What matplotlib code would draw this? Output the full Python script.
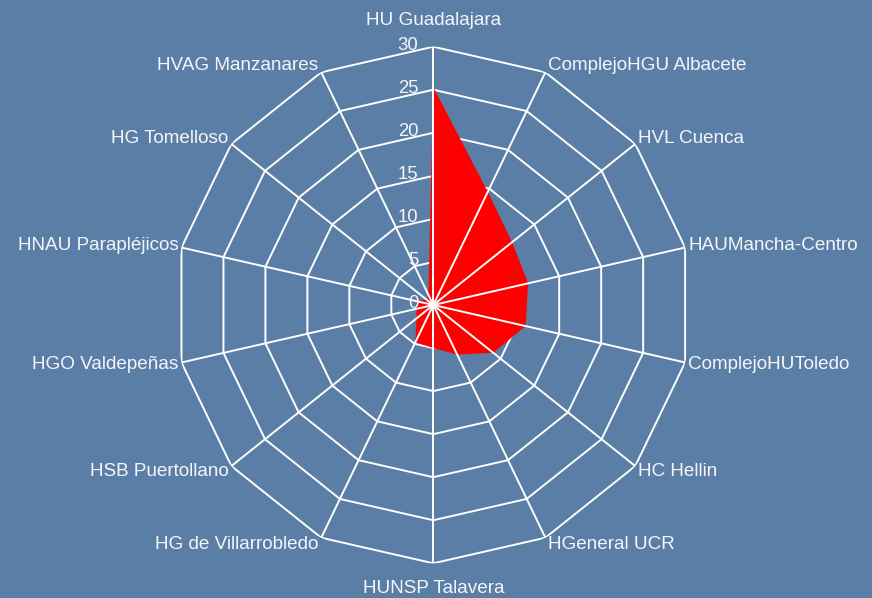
import numpy as np
import matplotlib
matplotlib.use("Agg")
import matplotlib.pyplot as plt
from matplotlib.transforms import offset_copy

categories = ["HU Guadalajara", "ComplejoHGU Albacete", "HVL Cuenca", "HAUMancha-Centro",
              "ComplejoHUToledo", "HC Hellin", "HGeneral UCR", "HUNSP Talavera",
              "HG de Villarrobledo", "HSB Puertollano", "HGO Valdepeñas",
              "HNAU Parapléjicos", "HG Tomelloso", "HVAG Manzanares"]
values = [25.3, 14.6, 11.7, 11.3, 11.0, 8.9, 6.4, 5.0, 4.8, 2.5, 2.0, 2.0, 1.0, 1.3]
rings = [0, 5, 10, 15, 20, 25, 30]
ring_labels = ["0", "5", "10", "15", "20", "25", "30"]

BG = "#5b7ea6"
FG = "#f4f6f8"
plt.rcParams['font.family'] = ['Liberation Sans', 'DejaVu Sans']

W, H = 872, 598
fig = plt.figure(figsize=(W / 100, H / 100), dpi=100, facecolor=BG)
cx, cy, R = 433.3, 598 - 305.0, 258.3
ax = fig.add_axes([(cx - R) / W, (cy - R) / H, 2 * R / W, 2 * R / H], projection='polar')
ax.set_facecolor('none')
ax.set_theta_zero_location('N')
ax.set_theta_direction(-1)
ax.set_ylim(0, rings[-1])
ax.set_xticks([])
ax.set_yticks([])
ax.grid(False)
ax.spines['polar'].set_visible(False)

n = len(categories)
angles = np.arange(n) * 2 * np.pi / n
closed = np.append(angles, angles[0])

# polygon rings
for r in rings[1:]:
    ax.plot(closed, [r] * (n + 1), color='white', lw=1.4, zorder=1, solid_joinstyle='miter')

# data fill
ax.fill(closed, values + [values[0]], color='#ff0000', lw=0, zorder=2)

# radial spokes
for a in angles:
    ax.plot([a, a], [0, rings[-1]], color='white', lw=1.4, zorder=3)

# radial tick labels
tr = offset_copy(ax.transData, fig=fig, x=-15, y=1, units='dots')
for r, lab in zip(rings, ring_labels):
    ax.text(0, r, lab, transform=tr, ha='right', va='center', color=FG, fontsize=13.3, zorder=4)

# category labels
for a, lab in zip(angles, categories):
    s, c = np.sin(a), np.cos(a)
    if abs(s) < 0.01:
        ha = 'center'
        dx = 0
        dy = 26 if c > 0 else -25
    else:
        ha = 'left' if s > 0 else 'right'
        dx = 3 if s > 0 else -3
        dy = 8 * c
    t = offset_copy(ax.transData, fig=fig, x=dx, y=dy, units='dots')
    ax.text(a, rings[-1], lab, transform=t, ha=ha, va='center', color=FG, fontsize=13.6)

fig.savefig("out.png", dpi=100, facecolor=BG)
